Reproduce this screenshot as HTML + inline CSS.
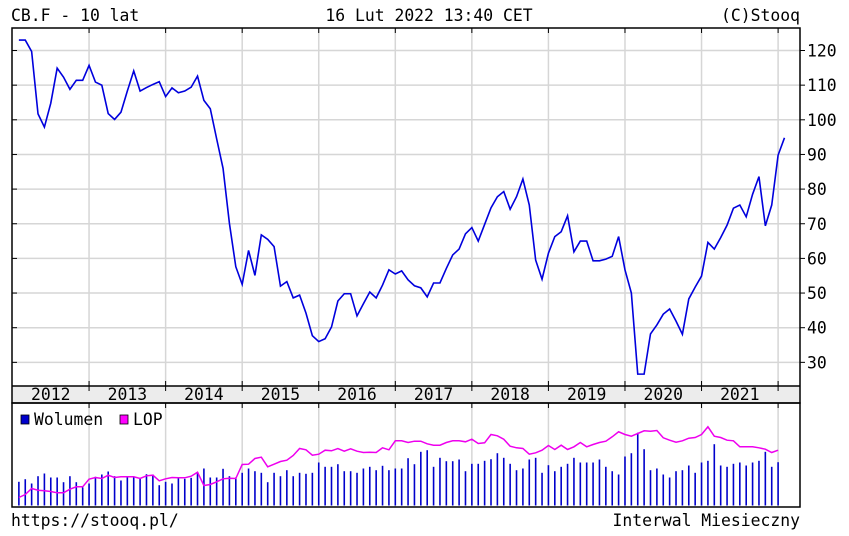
<!DOCTYPE html>
<html><head><meta charset="utf-8">
<style>
html,body{margin:0;padding:0;background:#fff;}
svg{display:block;font-family:"DejaVu Sans Mono","Liberation Mono",monospace;}
</style></head>
<body>
<svg id="chart" width="849" height="536" viewBox="0 0 849 536" xmlns="http://www.w3.org/2000/svg">
<rect x="0" y="0" width="849" height="536" fill="#fff"/>
<text x="11" y="21" font-size="16.4">CB.F - 10 lat</text>
<text x="429" y="21" font-size="16.4" text-anchor="middle">16 Lut 2022 13:40 CET</text>
<text x="800" y="21" font-size="16.4" text-anchor="end">(C)Stooq</text>
<g id="grid"></g>
<rect x="12" y="386" width="788" height="17" fill="#ececec"/>
<g id="marks"></g>
<rect x="12" y="28" width="788" height="375" fill="none" stroke="#000" stroke-width="1.5"/>
<line x1="12" y1="386" x2="800" y2="386" stroke="#000" stroke-width="1.5"/>
<rect x="12" y="403" width="788" height="104" fill="none" stroke="#000" stroke-width="1.5"/>
<g id="axes"></g>
<rect x="21" y="415" width="8" height="9" fill="#00c" stroke="#000" stroke-width="0.8"/>
<text x="34" y="425" font-size="16.4">Wolumen</text>
<rect x="120" y="415" width="8" height="9" fill="#f0f" stroke="#000" stroke-width="0.8"/>
<text x="133" y="425" font-size="16.4">LOP</text>
<text x="11" y="526" font-size="16.4">https://stooq.pl/</text>
<text x="800" y="526" font-size="16.4" text-anchor="end">Interwal Miesieczny</text>
</svg>
<script>
const years = ["2012","2013","2014","2015","2016","2017","2018","2019","2020","2021"];
const yTicks = [30,40,50,60,70,80,90,100,110,120];
const price = [123,123,119.7,101.7,97.9,104.8,114.9,112.3,108.8,111.4,111.4,115.7,110.9,110,101.8,100.1,102.2,108.3,114.1,108.3,109.3,110.2,111,106.7,109.2,107.8,108.3,109.4,112.6,105.6,103.2,94.5,86,70.1,57.6,52.5,62.3,55.1,66.8,65.5,63.4,52,53.3,48.6,49.4,44.2,37.7,36,36.8,40.2,47.7,49.8,49.8,43.4,46.9,50.3,48.6,52.3,56.7,55.5,56.4,53.8,52.1,51.5,48.9,52.9,52.9,57.1,61,62.7,67.1,68.9,65,69.8,74.6,77.8,79.3,74.2,77.8,82.9,75.4,59.5,54,61.5,66.3,67.7,72.3,61.9,65,65,59.3,59.3,59.8,60.6,66.3,56.7,50,26.6,26.6,38.2,40.8,43.9,45.4,41.9,38.1,48.3,51.7,54.9,64.6,62.7,66,69.6,74.5,75.4,72,78.5,83.6,69.4,75.4,89.8,94.8];
const volume = [23.7,26.3,22,29.3,32,28,28,23.3,29.3,23.3,18,22,28.7,31,34,29.3,25,28.7,28.7,27.7,31.3,31,20.3,23.7,22,27,26.7,27.7,33.3,37,28,28,36.7,29.3,28,32.7,37,34.3,32.7,23.3,32.7,29.3,35.3,29.3,32.7,31.7,32.7,43,38.7,38.7,41.3,34.3,34.3,32.7,37,38.7,35.3,39.7,35.3,37,37,47.3,41.3,53.7,55.3,38.7,47.7,44.3,44.3,46,34.3,41.7,41.7,44.7,46.3,52.3,47.7,41.7,35.3,37,46,47.7,32.7,40.3,34.3,38.7,41.7,47.7,43,43,43,46,38.7,34.3,31,49,52.3,72.7,56.3,35.3,37,31,28,34.3,35.3,40,32.7,43,44.7,61.3,40,38.7,41.7,43,40,43,44.7,53.7,38.7,43.3];
const lop = [8,11,17,15.3,14.7,14,12.7,12.7,16.3,18.7,18.7,26.3,28,27,30.3,28,28.7,28.7,28.7,27,29.7,30.3,24.7,26.7,28,27.7,27.7,29.3,33.3,20,21,23.7,26.7,27.3,27,41,41.3,47,48.3,38.7,41.3,44,45.3,50,57,55.7,50.3,51.3,55.3,54.7,57,54.3,56.7,54.3,53,53.3,53,57.7,55.7,64.7,64.7,63,64.3,64.3,61.7,60.3,60.3,63,64.7,64.7,63.7,66.3,62,62.7,71,69.7,66.3,59.3,57.7,57,51.3,52.7,55.3,60,56,60.3,56,58.7,63,58.7,61,63,64.3,68.7,73.7,71,69.3,72,74.7,74.3,75,67.7,65.3,63.3,64.7,67.3,68,71,78.7,69.3,68,65.3,64.7,58.7,58.7,58.7,57.7,56.3,53,55.3];

const NS="http://www.w3.org/2000/svg";
const X0=12.5, MONTH=6.38;
function xIdx(i){return X0+(i+1)*MONTH;}
function xYear(k){return X0+k*12*MONTH;}
function yPrice(v){return 50.5+(120-v)*3.465;}
function yVol(v){return 505.5-v;}
function mk(tag,attrs,parent){const e=document.createElementNS(NS,tag);for(const k in attrs)e.setAttribute(k,attrs[k]);parent.appendChild(e);return e;}
const grid=document.getElementById('grid'), marks=document.getElementById('marks'), axes=document.getElementById('axes');

yTicks.forEach(v=>{
  const y=yPrice(v);
  const g=mk('line',{x1:12,x2:800,y1:y,y2:y,stroke:'#d6d6d6','stroke-width':1.5},grid);
  
  
  mk('line',{x1:12,x2:17,y1:y,y2:y,stroke:'#000','stroke-width':1},axes);
  mk('line',{x1:800,x2:805,y1:y,y2:y,stroke:'#000','stroke-width':1},axes);
  const t=mk('text',{x:807,y:y+6,'font-size':16.4},axes);
  t.textContent=v;
  
  
});
for(let k=1;k<=10;k++){
  const x=xYear(k);
  const g=mk('line',{x1:x,x2:x,y1:28,y2:386,stroke:'#d6d6d6','stroke-width':1.5},grid);
  
  
  const g2=mk('line',{x1:x,x2:x,y1:403,y2:507,stroke:'#d6d6d6','stroke-width':1.5},grid);
  
  
  mk('line',{x1:x,x2:x,y1:28,y2:33,stroke:'#000','stroke-width':1},axes);
  mk('line',{x1:x,x2:x,y1:381,y2:391,stroke:'#000','stroke-width':1},axes);
  mk('line',{x1:x,x2:x,y1:403,y2:408,stroke:'#000','stroke-width':1},axes);
}
years.forEach((yr,k)=>{
  const t=mk('text',{x:(xYear(k)+xYear(k+1))/2,y:400,'font-size':16.4,'text-anchor':'middle'},axes);
  t.textContent=yr;
  
  
});
volume.forEach((v,i)=>{
  const b=mk('line',{x1:xIdx(i),x2:xIdx(i),y1:yVol(0),y2:yVol(v),stroke:'#0000cc','stroke-width':1.6},marks);
  
  
});
const lp=mk('polyline',{points:lop.map((v,i)=>xIdx(i)+','+yVol(v)).join(' '),fill:'none',stroke:'#ee00ee','stroke-width':1.5},marks);


const pl=mk('polyline',{points:price.map((v,i)=>xIdx(i)+','+yPrice(v)).join(' '),fill:'none',stroke:'#0000dd','stroke-width':1.6},marks);


</script>
</body></html>
